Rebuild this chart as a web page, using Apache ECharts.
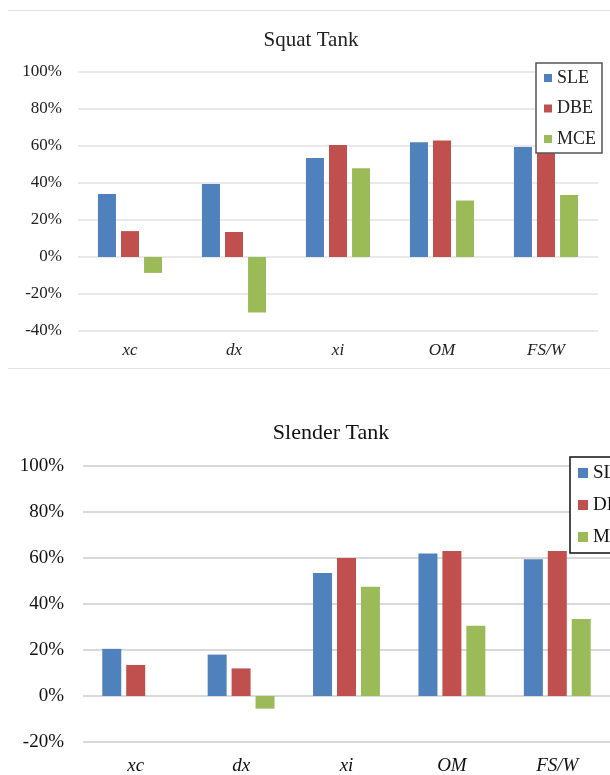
<!DOCTYPE html>
<html>
<head>
<meta charset="utf-8">
<script src="https://cdn.jsdelivr.net/npm/echarts@6/dist/echarts.min.js"></script>
<style>
html,body{margin:0;padding:0;background:#fff;}
#c{width:610px;height:775px;}
</style>
</head>
<body>
<div id="c"></div>
<script>
var categories = ['xc', 'dx', 'xi', 'OM', 'FS/W'];
var seriesNames = ['SLE', 'DBE', 'MCE'];
var colors = ['#4F81BD', '#C0504D', '#9BBB59'];

var squatSLE = [34, 39.5, 53.5, 62, 59.5];
var squatDBE = [14, 13.5, 60.5, 63, 63];
var squatMCE = [-8.6, -30, 48, 30.5, 33.5];

var slenderSLE = [20.5, 18, 53.5, 62, 59.5];
var slenderDBE = [13.5, 12, 60, 63, 63];
var slenderMCE = [0, -5.5, 47.5, 30.5, 33.5];

var squatTicks = {min: -40, max: 100, interval: 20};
var slenderTicks = {min: -20, max: 100, interval: 20};

var serif = '"Liberation Serif", "Times New Roman", serif';

function barSeries(name, data, idx, color, bw, gap) {
  return {
    type: 'bar', name: name, data: data,
    xAxisIndex: idx, yAxisIndex: idx,
    barWidth: bw, barGap: gap,
    itemStyle: {color: color},
    animation: false
  };
}

var chart = echarts.init(document.getElementById('c'), null, {renderer: 'canvas'});
chart.setOption({
  backgroundColor: '#fff',
  animation: false,
  graphic: [
    {type: 'line', shape: {x1: 8, y1: 10.5, x2: 610, y2: 10.5}, style: {stroke: '#e3e3e3', lineWidth: 1}},
    {type: 'line', shape: {x1: 8, y1: 368.5, x2: 610, y2: 368.5}, style: {stroke: '#e3e3e3', lineWidth: 1}},
    {type: 'text', x: 311, y: 40, style: {text: 'Squat Tank', fontFamily: serif, fontSize: 21, fill: '#222', align: 'center', verticalAlign: 'middle'}},
    {type: 'text', x: 331, y: 433, style: {text: 'Slender Tank', fontFamily: serif, fontSize: 22, fill: '#111', align: 'center', verticalAlign: 'middle'}}
  ],
  legend: [
    {
      data: seriesNames, orient: 'vertical', left: 536, top: 63, z: 10,
      padding: [5, 6, 4, 8], itemGap: 10.5, itemWidth: 8, itemHeight: 8,
      icon: 'rect', borderColor: '#555', borderWidth: 1.5, backgroundColor: '#fff',
      textStyle: {fontFamily: serif, fontSize: 18, color: '#222', lineHeight: 20}
    },
    {
      data: seriesNames, orient: 'vertical', left: 570, top: 457, z: 10,
      padding: [5, 8, 5, 8], itemGap: 10, itemWidth: 10, itemHeight: 10,
      icon: 'rect', borderColor: '#111', borderWidth: 1.5, backgroundColor: '#fff',
      textStyle: {fontFamily: serif, fontSize: 19, color: '#111', lineHeight: 22}
    }
  ],
  grid: [
    {left: 78, top: 72, width: 520, height: 259, containLabel: false},
    {left: 83, top: 466, width: 550, height: 276, containLabel: false}
  ],
  xAxis: [
    {
      type: 'category', data: categories, gridIndex: 0, position: 'bottom',
      axisLine: {show: false, onZero: false}, axisTick: {show: false},
      axisLabel: {margin: 11, fontFamily: serif, fontStyle: 'italic', fontSize: 17, color: '#222'}
    },
    {
      type: 'category', data: categories, gridIndex: 1, position: 'bottom',
      axisLine: {show: false, onZero: false}, axisTick: {show: false},
      axisLabel: {margin: 14, fontFamily: serif, fontStyle: 'italic', fontSize: 19, color: '#111'}
    }
  ],
  yAxis: [
    {
      type: 'value', gridIndex: 0, min: squatTicks.min, max: squatTicks.max, interval: squatTicks.interval,
      axisLine: {show: false}, axisTick: {show: false},
      splitLine: {show: true, lineStyle: {color: '#e2e2e2', width: 1.5}},
      axisLabel: {margin: 16, formatter: '{value}%', fontFamily: serif, fontSize: 17, color: '#222'}
    },
    {
      type: 'value', gridIndex: 1, min: slenderTicks.min, max: slenderTicks.max, interval: slenderTicks.interval,
      axisLine: {show: false}, axisTick: {show: false},
      splitLine: {show: true, lineStyle: {color: '#d9d9d9', width: 2}},
      axisLabel: {margin: 19, formatter: '{value}%', fontFamily: serif, fontSize: 19, color: '#111'}
    }
  ],
  series: [
    barSeries('SLE', squatSLE, 0, colors[0], 18, '28%'),
    barSeries('DBE', squatDBE, 0, colors[1], 18, '28%'),
    barSeries('MCE', squatMCE, 0, colors[2], 18, '28%'),
    barSeries('SLE', slenderSLE, 1, colors[0], 19, '26%'),
    barSeries('DBE', slenderDBE, 1, colors[1], 19, '26%'),
    barSeries('MCE', slenderMCE, 1, colors[2], 19, '26%')
  ]
});
</script>
</body>
</html>
